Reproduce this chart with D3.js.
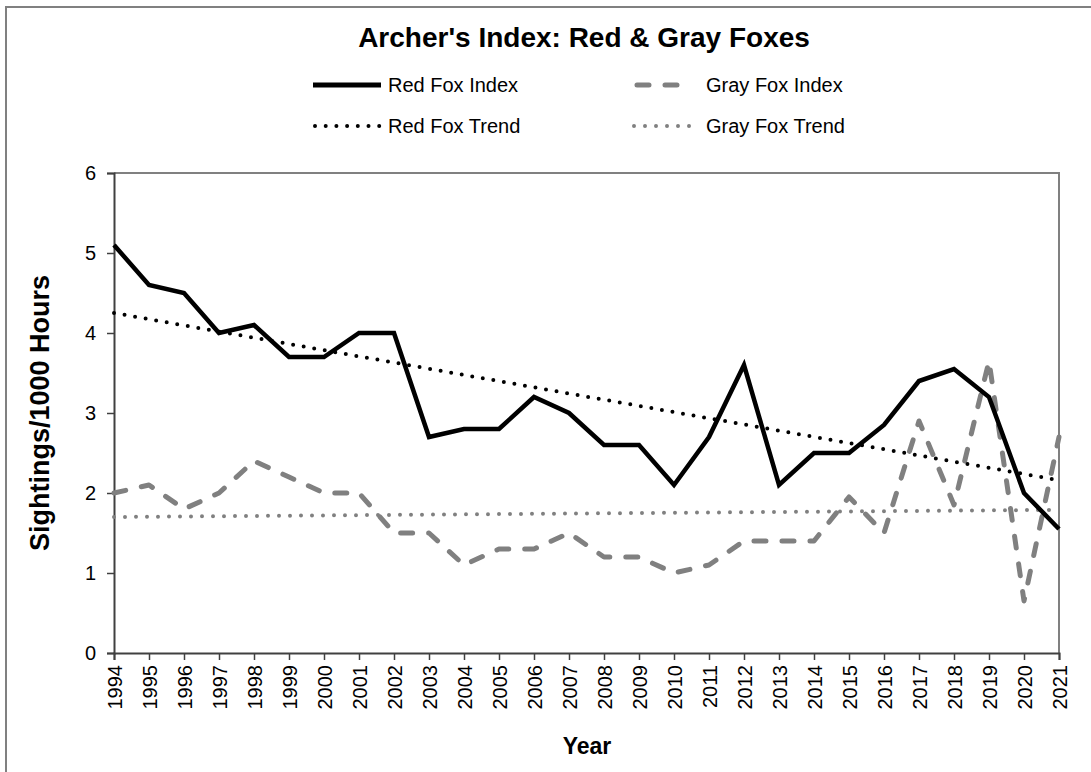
<!DOCTYPE html>
<html>
<head>
<meta charset="utf-8">
<script src="https://cdn.jsdelivr.net/npm/d3@7"></script>
<style>
  body { margin: 0; background: #fff; }
  svg { display: block; font-family: "Liberation Sans", Arial, sans-serif; }
</style>
</head>
<body>
<svg id="chart"></svg>
<script>
const years = [1994, 1995, 1996, 1997, 1998, 1999, 2000, 2001, 2002, 2003, 2004, 2005, 2006, 2007,
  2008, 2009, 2010, 2011, 2012, 2013, 2014, 2015, 2016, 2017, 2018, 2019, 2020, 2021];
const redFox = [5.1, 4.6, 4.5, 4.0, 4.1, 3.7, 3.7, 4.0, 4.0, 2.7, 2.8, 2.8, 3.2, 3.0,
  2.6, 2.6, 2.1, 2.7, 3.6, 2.1, 2.5, 2.5, 2.85, 3.4, 3.55, 3.2, 2.0, 1.55];
const grayFox = [2.0, 2.1, 1.8, 2.0, 2.4, 2.2, 2.0, 2.0, 1.5, 1.5, 1.1, 1.3, 1.3, 1.5,
  1.2, 1.2, 1.0, 1.1, 1.4, 1.4, 1.4, 1.95, 1.5, 2.9, 1.85, 3.65, 0.65, 2.7];
// trend lines (start / end values)
const redTrend = [{ year: 1994, v: 4.25 }, { year: 2021, v: 2.16 }];
const grayTrend = [{ year: 1994, v: 1.70 }, { year: 2021, v: 1.79 }];
const yTicks = [0, 1, 2, 3, 4, 5, 6];

const W = 1091, H = 772;
const svg = d3.select("#chart").attr("width", W).attr("height", H);

// outer chart border
svg.append("rect")
  .attr("x", 6).attr("y", 7)
  .attr("width", W + 10).attr("height", H + 10)
  .attr("fill", "none").attr("stroke", "#808080").attr("stroke-width", 2);

const plot = { left: 114, right: 1059, top: 173, bottom: 653 };

const x = d3.scaleLinear().domain([1994, 2021]).range([plot.left, plot.right]);
const y = d3.scaleLinear().domain([0, 6]).range([plot.bottom, plot.top]);

// plot frame: gray top/right
svg.append("path")
  .attr("d", `M${plot.left},${plot.top}H${plot.right}V${plot.bottom}`)
  .attr("fill", "none").attr("stroke", "#808080").attr("stroke-width", 2);

// y axis
const yAxis = svg.append("g")
  .attr("transform", `translate(${plot.left},0)`)
  .call(d3.axisLeft(y).tickValues(yTicks).tickFormat(d3.format("d")).tickSize(7).tickPadding(11));
yAxis.select(".domain").attr("stroke", "#404040").attr("stroke-width", 2);
yAxis.selectAll(".tick line").attr("stroke", "#404040").attr("stroke-width", 1.5);
yAxis.selectAll("text").attr("font-size", 20).attr("fill", "#000")
  .attr("font-family", "Liberation Sans, Arial, sans-serif");

// x axis
const xAxis = svg.append("g")
  .attr("transform", `translate(0,${plot.bottom})`)
  .call(d3.axisBottom(x).tickValues(years).tickFormat(d3.format("d")).tickSize(7));
xAxis.select(".domain").attr("stroke", "#404040").attr("stroke-width", 2);
xAxis.selectAll(".tick line").attr("stroke", "#404040").attr("stroke-width", 1.5);
xAxis.selectAll("text")
  .attr("font-size", 20).attr("fill", "#000")
  .attr("font-family", "Liberation Sans, Arial, sans-serif")
  .attr("text-anchor", "end")
  .attr("transform", "rotate(-90)")
  .attr("x", -12).attr("y", 0).attr("dy", "0.35em");

// lines
const line = d3.line().x((d, i) => x(years[i])).y(d => y(d));
const trendLine = d3.line().x(d => x(d.year)).y(d => y(d.v));

svg.append("path")
  .datum(grayTrend)
  .attr("d", trendLine)
  .attr("fill", "none").attr("stroke", "#808080").attr("stroke-width", 4)
  .attr("stroke-linecap", "round").attr("stroke-dasharray", "0 11");

svg.append("path")
  .datum(grayFox)
  .attr("d", line)
  .attr("fill", "none").attr("stroke", "#808080").attr("stroke-width", 5)
  .attr("stroke-linecap", "round").attr("stroke-linejoin", "round")
  .attr("stroke-dasharray", "12 16");

svg.append("path")
  .datum(redFox)
  .attr("d", line)
  .attr("fill", "none").attr("stroke", "#000").attr("stroke-width", 4.5)
  .attr("stroke-linejoin", "miter");

svg.append("path")
  .datum(redTrend)
  .attr("d", trendLine)
  .attr("fill", "none").attr("stroke", "#000").attr("stroke-width", 4)
  .attr("stroke-linecap", "round").attr("stroke-dasharray", "0 10.7");

// title
svg.append("text")
  .attr("x", 584).attr("y", 47)
  .attr("text-anchor", "middle")
  .attr("font-size", 28).attr("font-weight", "bold")
  .text("Archer's Index: Red & Gray Foxes");

// axis titles
svg.append("text")
  .attr("x", 587).attr("y", 754)
  .attr("text-anchor", "middle")
  .attr("font-size", 23).attr("font-weight", "bold")
  .text("Year");

svg.append("text")
  .attr("transform", `translate(49,${(plot.top + plot.bottom) / 2}) rotate(-90)`)
  .attr("text-anchor", "middle")
  .attr("font-size", 27).attr("font-weight", "bold")
  .text("Sightings/1000 Hours");

// legend
const legendItems = [
  { label: "Red Fox Index", color: "#000", width: 5, dash: null, cap: "butt", x0: 313, x1: 381, tx: 388, ty: 85 },
  { label: "Gray Fox Index", color: "#808080", width: 5, dash: "12 16", cap: "round", x0: 637, x1: 690, tx: 706, ty: 85 },
  { label: "Red Fox Trend", color: "#000", width: 4, dash: "0 10.7", cap: "round", x0: 315, x1: 381, tx: 388, ty: 126 },
  { label: "Gray Fox Trend", color: "#808080", width: 4, dash: "0 11", cap: "round", x0: 634, x1: 700, tx: 706, ty: 126 }
];
const lg = svg.append("g");
legendItems.forEach(d => {
  lg.append("line")
    .attr("x1", d.x0).attr("x2", d.x1).attr("y1", d.ty).attr("y2", d.ty)
    .attr("stroke", d.color).attr("stroke-width", d.width)
    .attr("stroke-linecap", d.cap)
    .attr("stroke-dasharray", d.dash);
  lg.append("text")
    .attr("x", d.tx).attr("y", d.ty).attr("dy", "0.35em")
    .attr("font-size", 20)
    .text(d.label);
});
</script>
</body>
</html>
